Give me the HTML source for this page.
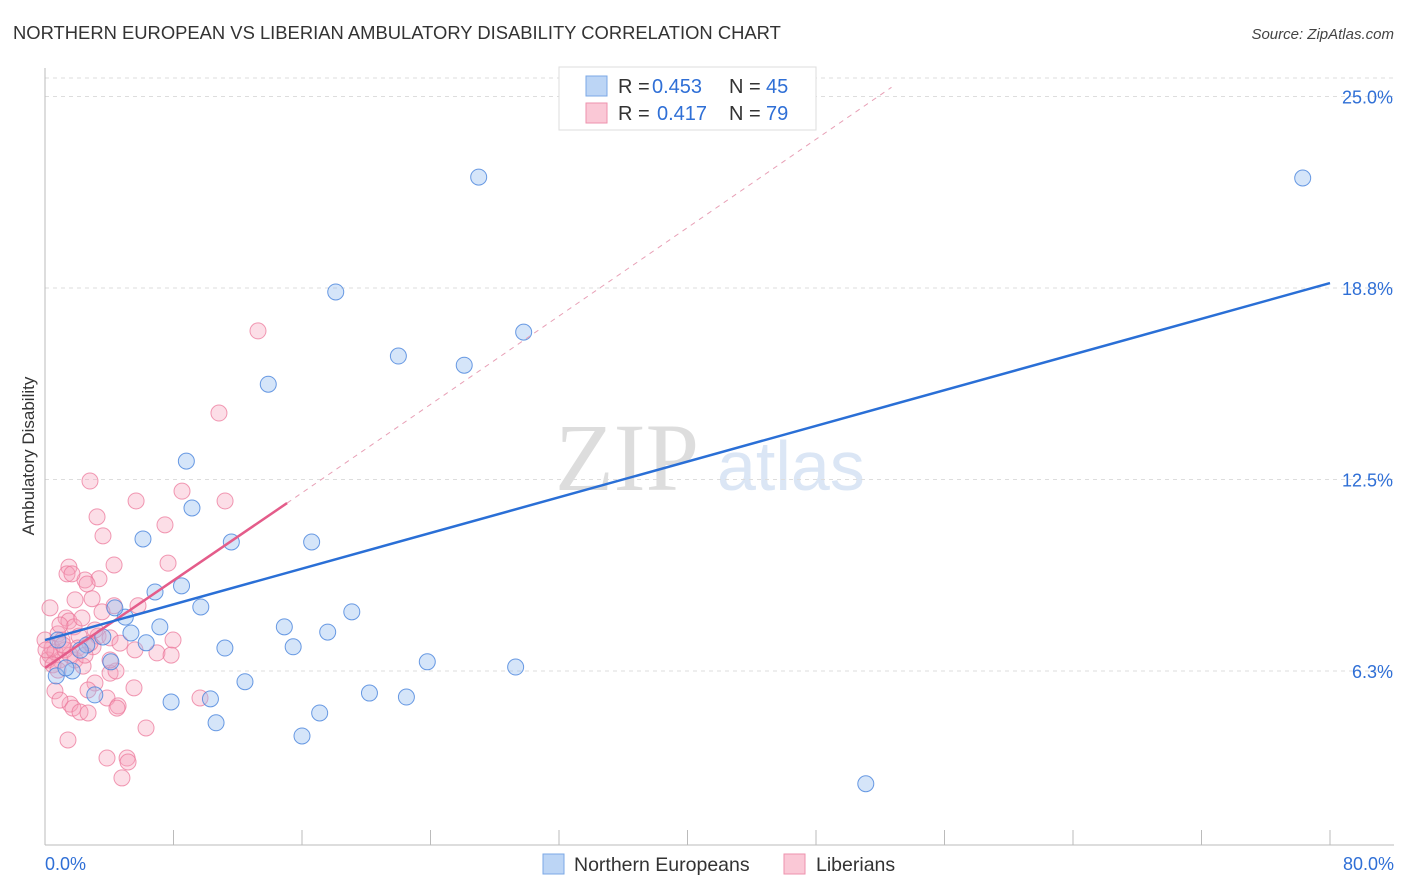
<!DOCTYPE html>
<html><head><meta charset="utf-8"><style>
body{margin:0;background:#fff;font-family:"Liberation Sans",sans-serif;}
svg{display:block}
</style></head><body>
<svg id="chart" width="1406" height="892" xmlns="http://www.w3.org/2000/svg" font-family="Liberation Sans, sans-serif">
<text x="13" y="39" font-size="18.4" fill="#333">NORTHERN EUROPEAN VS LIBERIAN AMBULATORY DISABILITY CORRELATION CHART</text>
<text x="1394" y="39" font-size="15" fill="#444" text-anchor="end" font-style="italic">Source: ZipAtlas.com</text>
<text transform="translate(34,456) rotate(-90)" font-size="17" fill="#333" text-anchor="middle">Ambulatory Disability</text>
<g>
<text x="555" y="490" font-size="96" fill="#ddd" font-family="Liberation Serif, serif">ZIP</text>
<text x="717" y="490" font-size="70" fill="#dbe6f5">atlas</text>
</g>
<g id="grid"></g>
<g id="axes"></g>
<g id="marks"></g>
<g id="lines"></g>
<g>
<rect x="559" y="67" width="257" height="63" fill="#fff" stroke="#ddd"/>
<rect x="586" y="76" width="21" height="20" fill="#bcd5f5" stroke="#7ba8e6"/>
<rect x="586" y="103" width="21" height="20" fill="#fac8d6" stroke="#ee92ad"/>
<text x="618" y="93" font-size="20" fill="#333">R =</text>
<text x="652" y="93" font-size="20" fill="#2f6fd6">0.453</text>
<text x="729" y="93" font-size="20" fill="#333">N =</text>
<text x="766" y="93" font-size="20" fill="#2f6fd6">45</text>
<text x="618" y="120" font-size="20" fill="#333">R =</text>
<text x="657" y="120" font-size="20" fill="#2f6fd6">0.417</text>
<text x="729" y="120" font-size="20" fill="#333">N =</text>
<text x="766" y="120" font-size="20" fill="#2f6fd6">79</text>
</g>
<g>
<rect x="543" y="854" width="21" height="20" fill="#bcd5f5" stroke="#7ba8e6"/>
<text x="574" y="871" font-size="19.5" fill="#333">Northern Europeans</text>
<rect x="784" y="854" width="21" height="20" fill="#fac8d6" stroke="#ee92ad"/>
<text x="816" y="871" font-size="19.5" fill="#333">Liberians</text>
</g>
</svg>
<script>
const yTicks=[6.25,12.5,18.75,25];
const yTickLabels=["6.3%","12.5%","18.8%","25.0%"];
const xTickLabels=["0.0%","80.0%"];
const blueX=[27.0,78.3,18.1,29.8,22.0,26.1,13.9,8.8,9.15,6.1,11.6,16.6,8.5,6.85,9.7,5.0,19.1,7.15,14.9,17.6,5.35,3.6,2.6,6.3,15.45,11.2,4.1,23.8,29.3,0.7,1.7,12.45,3.1,20.2,22.5,7.85,10.3,17.1,10.65,16.0,51.1,0.8,2.2,1.3,4.35];
const blueY=[22.37,22.34,18.62,17.31,16.53,16.23,15.61,13.10,11.57,10.56,10.46,10.46,9.03,8.83,8.34,8.01,8.18,7.69,7.69,7.52,7.49,7.36,7.10,7.17,7.04,7.00,6.55,6.55,6.38,6.09,6.25,5.90,5.47,5.53,5.40,5.24,5.34,4.88,4.56,4.13,2.57,7.26,6.93,6.35,8.31];
const pinkX=[13.26,10.83,2.80,8.53,5.67,11.21,3.24,7.47,3.61,7.66,1.49,4.30,1.37,3.36,2.49,2.62,1.68,2.93,4.30,5.79,0.31,1.31,1.49,1.81,0.81,2.12,3.30,4.05,4.67,7.97,2.99,5.60,6.97,7.85,0.31,0.93,1.87,2.37,4.05,4.42,3.11,5.54,0.62,1.56,0.93,1.74,2.18,2.68,3.86,4.55,4.48,6.29,1.43,3.86,5.11,5.17,4.79,0.19,0.44,0.62,1.06,1.25,1.56,2.05,2.49,2.80,0.50,0.81,0.0,0.06,1.12,3.55,3.11,1.87,4.05,2.68,9.65,0.93,2.30];
const pinkY=[17.35,14.67,12.45,12.12,11.80,11.80,11.28,11.02,10.66,9.77,9.64,9.71,9.42,9.26,9.22,9.09,9.42,8.61,8.38,8.38,8.31,7.98,7.88,7.69,7.46,7.39,7.39,7.33,7.16,7.26,7.04,6.94,6.84,6.77,6.77,6.61,6.61,6.41,6.18,6.25,5.86,5.70,5.60,5.17,5.30,5.04,4.91,4.88,5.37,5.11,5.04,4.39,4.00,3.41,3.41,3.28,2.76,6.61,7.00,6.87,7.26,6.94,6.77,7.00,6.77,7.16,6.45,6.28,7.26,6.94,7.10,8.18,7.59,8.57,6.61,5.63,5.37,7.75,7.98];
const blueTrend=[[0,7.26],[80,18.91]];
const pinkTrend=[[0,6.35],[15.07,11.73]];
const pinkDash=[[15.07,11.73],[52.7,25.3]];

const NS="http://www.w3.org/2000/svg";
const X=v=>45+v*16.0625;
const Y=v=>862.5-v*30.64;
function mk(tag,attrs,parent){const e=document.createElementNS(NS,tag);for(const k in attrs)e.setAttribute(k,attrs[k]);parent.appendChild(e);return e;}
const grid=document.getElementById('grid'),axes=document.getElementById('axes'),marks=document.getElementById('marks'),lines=document.getElementById('lines');
let gl=mk('line',{x1:45,x2:1394,y1:78,y2:78,stroke:'#ddd','stroke-dasharray':'4,4'},grid);


yTicks.forEach((t,i)=>{
 const l=mk('line',{x1:45,x2:1394,y1:Y(t),y2:Y(t),stroke:'#ddd','stroke-dasharray':'4,4'},grid);
 
 
 const tx=mk('text',{x:1393,y:Y(t)+7,'font-size':18,fill:'#2f6fd6','text-anchor':'end'},axes);
 tx.textContent=yTickLabels[i];
 
 
});
let ax=mk('line',{x1:45,x2:45,y1:68,y2:845,stroke:'#bbb'},axes);


let bx=mk('line',{x1:45,x2:1394,y1:845,y2:845,stroke:'#bbb'},axes);


for(let i=0;i<=10;i++){
 const t=mk('line',{x1:X(i*8),x2:X(i*8),y1:830,y2:845,stroke:'#bbb'},axes);
 
 
}
[[0,'start',45],[80,'end',1394]].forEach((d,i)=>{
 const tx=mk('text',{x:d[2],y:870,'font-size':18,fill:'#2f6fd6','text-anchor':d[1]},axes);
 tx.textContent=xTickLabels[i];
 
 
});
pinkX.forEach((v,i)=>{
 const c=mk('circle',{cx:X(v),cy:Y(pinkY[i]),r:8,fill:'rgba(246,160,186,0.35)',stroke:'rgba(236,120,155,0.75)','stroke-width':1},marks);
 
 
});
blueX.forEach((v,i)=>{
 const c=mk('circle',{cx:X(v),cy:Y(blueY[i]),r:8,fill:'rgba(150,190,240,0.4)',stroke:'rgba(70,130,220,0.8)','stroke-width':1},marks);
 
 
});
let pd=mk('line',{x1:X(pinkDash[0][0]),y1:Y(pinkDash[0][1]),x2:X(pinkDash[1][0]),y2:Y(pinkDash[1][1]),stroke:'#e8a0b6','stroke-dasharray':'5,5','stroke-width':1},lines);


let pt=mk('line',{x1:X(pinkTrend[0][0]),y1:Y(pinkTrend[0][1]),x2:X(pinkTrend[1][0]),y2:Y(pinkTrend[1][1]),stroke:'#e45c8a','stroke-width':2.5},lines);


let bt=mk('line',{x1:X(blueTrend[0][0]),y1:Y(blueTrend[0][1]),x2:X(blueTrend[1][0]),y2:Y(blueTrend[1][1]),stroke:'#2a6fd6','stroke-width':2.5},lines);


</script>
</body></html>
